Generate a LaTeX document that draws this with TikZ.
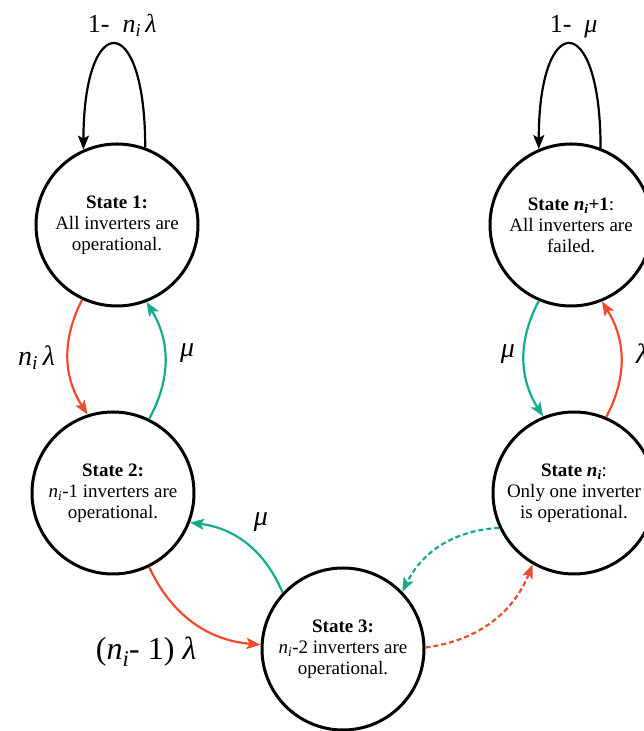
\documentclass[tikz,border=0pt]{standalone}
\usepackage{fontspec}
\setmainfont{Liberation Serif}
\usetikzlibrary{arrows.meta,positioning}
\definecolor{failred}{RGB}{239,76,46}
\definecolor{repgreen}{RGB}{22,171,141}
\newcommand{\nsub}{\textit{n}\textsubscript{\textit{i}}}
\newcommand{\nsubb}{\textbf{\textit{n}\textsubscript{\textit{i}}}}
\newcommand{\ratelam}{\textit{λ}}
\newcommand{\ratemu}{\textit{μ}}
\tikzset{
  state/.style={circle, draw, line width=3pt, minimum size=162pt, inner sep=0pt,
    align=center, font=\fontsize{19}{21}\selectfont},
  trans/.style={line width=2.2pt, -{Stealth[length=14pt,width=11pt,inset=3pt]}},
  rate/.style={inner sep=0pt, text=black, font=\fontsize{28}{32}\selectfont},
}
\begin{document}
\begin{tikzpicture}[x=1pt, y=1pt]
    \useasboundingbox (0,0) rectangle (644,731);
    \node[state] (S1) at (117,506) {\textbf{State 1:}\\All inverters are\\operational.};
    \node[state] (S2) at (113,238) {\textbf{State 2:}\\\nsub-1 inverters are\\operational.};
    \node[state] (S3) at (343,82) {\textbf{State 3:}\\\nsub-2 inverters are\\operational.};
    \node[state] (Sn) at (574,238) {\textbf{State} \nsubb:\\Only one inverter\\is operational.};
    \node[state] (Sf) at (571,506) {\textbf{State} \nsubb\textbf{+1}:\\All inverters are\\failed.};
    \draw[trans] (S1.70) .. controls +(90:139) and +(90:139) .. (S1.114)
    node[midway, rate, font=\fontsize{26}{30}\selectfont, above=7pt, xshift=8pt] (l11) {1-\ \ \nsub\,\ratelam};
    \draw[trans] (Sf.69) .. controls +(90:139) and +(90:139) .. (Sf.113)
    node[midway, rate, font=\fontsize{26}{30}\selectfont, above=5pt, xshift=4pt] (lff) {1-\ \ \ratemu};
    \draw[trans, failred] (S1.245) to[bend right=30]
    node[midway, rate, left=12pt] (l12) {\nsub\,\ratelam} (S2.108);
    \draw[trans, repgreen] (S2.64) to[bend right=30]
    node[midway, rate, right=14pt, yshift=7pt] (l21) {\ratemu} (S1.291);
    \draw[trans, failred] (S2.296) to[bend right=30]
    node[midway, rate, font=\fontsize{32}{36}\selectfont, below left=14pt and -4pt] (l23) {(\nsub- 1) \ratelam} (S3.177);
    \draw[trans, repgreen] (S3.137) to[bend right=30]
    node[midway, rate, above right=11pt and 6pt] (l32) {\ratemu} (S2.339);
    \draw[trans, failred, dashed, dash pattern=on 5pt off 3pt] (S3.1) to[bend right=30] (Sn.240);
    \draw[trans, repgreen, dashed, dash pattern=on 5pt off 3pt] (Sn.205) to[bend right=30] (S3.44);
    \draw[trans, repgreen] (Sf.247) to[bend right=30]
    node[midway, rate, left=8pt, yshift=5pt] (lfn) {\ratemu} (Sn.112);
    \draw[trans, failred] (Sn.67) to[bend right=30]
    node[midway, rate, right=14pt, yshift=5pt] (lnf) {\ratelam} (Sf.292);
  \end{tikzpicture}
\end{document}
